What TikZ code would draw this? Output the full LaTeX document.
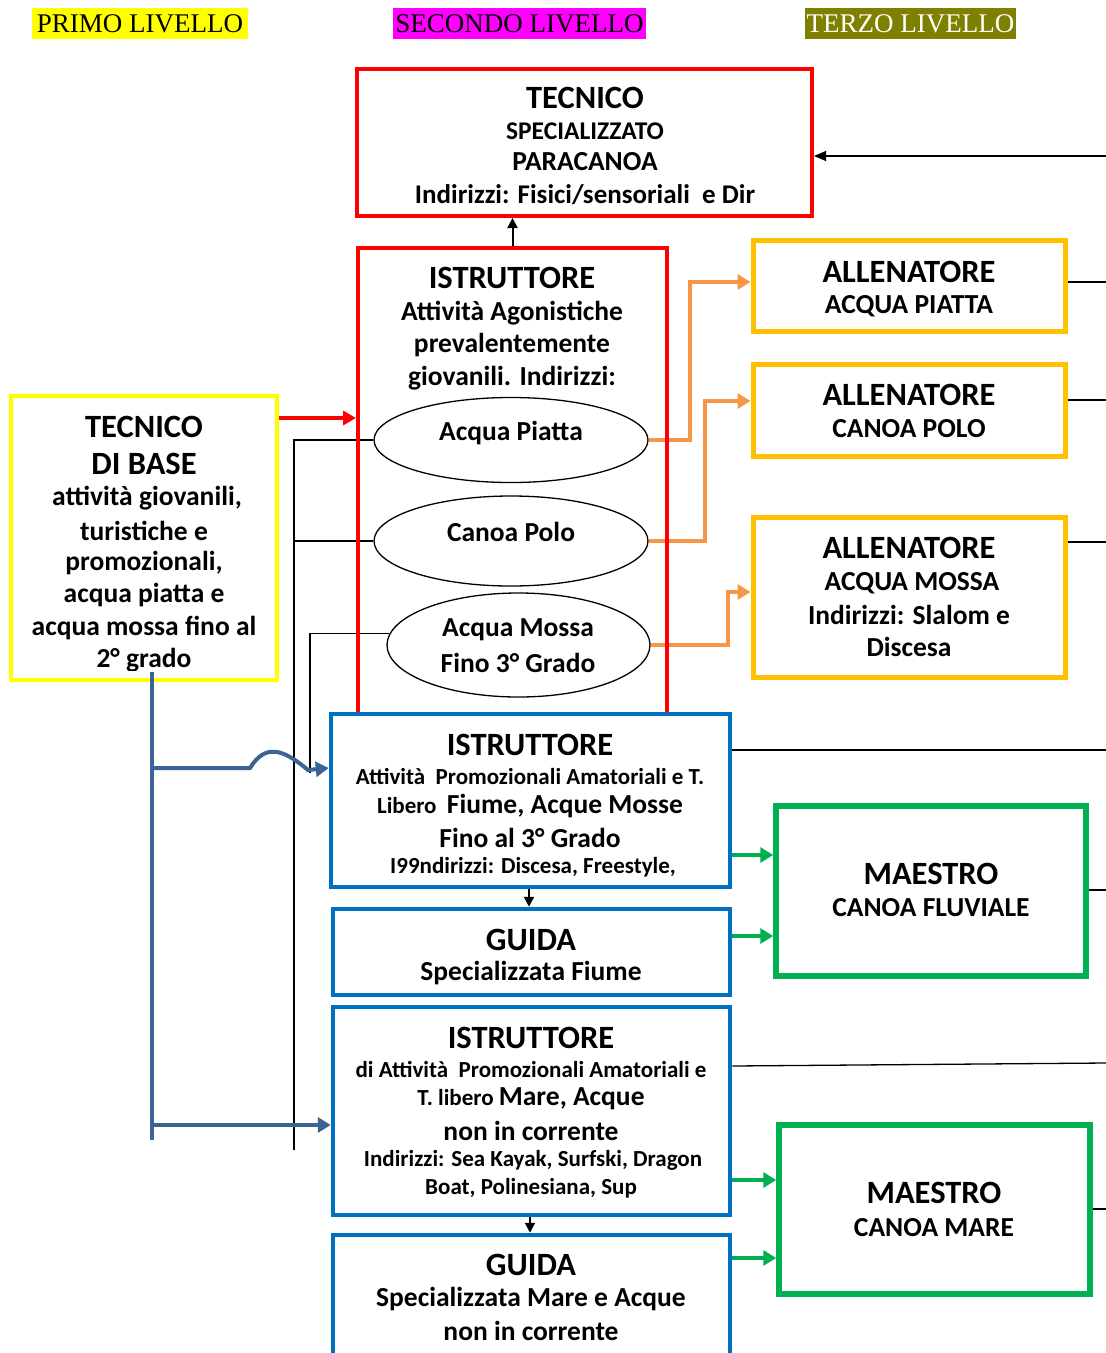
\documentclass[tikz,border=0pt]{standalone}
\usepackage{fontspec}
\setmainfont{Carlito}
\newfontfamily\timesf{Liberation Serif}
\usetikzlibrary{shapes.geometric,arrows.meta}
\newcommand\fsz[1]{\fontsize{#1}{#1}\selectfont}
\definecolor{cred}{HTML}{FF0000}
\definecolor{cgold}{HTML}{FFC000}
\definecolor{corange}{HTML}{F79646}
\definecolor{cblue}{HTML}{0070C0}
\definecolor{cblueconn}{HTML}{3B6494}
\definecolor{cgreen}{HTML}{00B050}
\definecolor{cyel}{HTML}{FFFF00}
\definecolor{cmag}{HTML}{FF00FF}
\definecolor{colive}{HTML}{808000}
\begin{document}
\begin{tikzpicture}[x=1pt,y=-1pt,
  hdr/.style={rectangle,inner sep=0,minimum height=31,font=\timesf\fsz{27}},
  redbox/.style={draw=cred,rectangle,inner sep=0,line width=4pt},
  yelbox/.style={draw=cyel,rectangle,inner sep=0,line width=4.5pt},
  goldbox/.style={draw=cgold,rectangle,inner sep=0,line width=5pt},
  bluebox/.style={draw=cblue,fill=white,rectangle,inner sep=0,line width=4.5pt},
  greenbox/.style={draw=cgreen,rectangle,inner sep=0,line width=5.5pt},
  ell/.style={draw=black,fill=white,ellipse,inner sep=0,line width=1.3pt},
  T/.style={inner sep=0,font=\bfseries\fsz{32.5}},
  M/.style={inner sep=0,font=\bfseries\fsz{27.5}},
  S/.style={inner sep=0,font=\bfseries\fsz{23}},
  thin/.style={draw=black,line width=1.3pt},
  orconn/.style={draw=corange,line width=4pt,-{Triangle[length=13pt,width=15pt]}},
  grconn/.style={draw=cgreen,line width=4pt,-{Triangle[length=13pt,width=15pt]}},
  blconn/.style={draw=cblueconn,line width=4pt},
  blarrow/.style={draw=cblueconn,line width=4pt,-{Triangle[length=13pt,width=15pt]}},
  darrow/.style={draw=black,line width=2pt,-{Triangle[length=10pt,width=10pt]}}
]
\useasboundingbox (0,0) rectangle (1106,1353);
\fill[white] (0,0) rectangle (1106,1353);

% headers
\node[hdr,fill=cyel,minimum width=216] (h1) at (140,23.5) {PRIMO LIVELLO};
\node[hdr,fill=cmag,minimum width=253] (h2) at (519.5,23.5) {SECONDO LIVELLO};
\node[hdr,fill=colive,text=white,minimum width=211] (h3) at (910.5,23.5) {TERZO LIVELLO};

% coordinates for free ends
\coordinate (r0) at (1106,156);
\coordinate (bl) at (294,1150);
\coordinate (bl2) at (310,773);
\coordinate (bt) at (152,672);
\coordinate (bv) at (152,1140);
\coordinate (e1) at (1106,282);
\coordinate (e2) at (1106,400);
\coordinate (e3) at (1106,542);
\coordinate (e4) at (1106,750);
\coordinate (e5) at (1106,1063);
\coordinate (e6) at (1106,890);
\coordinate (e7) at (1106,1209);

% boxes (positions)
\node[redbox,minimum width=455,minimum height=147] (tec) at (584.5,142.5) {};
\node[redbox,minimum width=309,minimum height=466] (ist1) at (512.5,481) {};
\node[yelbox,minimum width=266,minimum height=284] (base) at (144,538) {};
\node[goldbox,minimum width=312,minimum height=91] (all1) at (909,285.5) {};
\node[goldbox,minimum width=312,minimum height=92] (all2) at (909,410) {};
\node[goldbox,minimum width=312,minimum height=160] (all3) at (909,597) {};
\node[greenbox,minimum width=310,minimum height=170] (m1) at (931,891) {};
\node[greenbox,minimum width=311,minimum height=169] (m2) at (934.5,1209.5) {};

% connectors drawn under ellipses and blue boxes
\draw[thin,-{Triangle[length=12pt,width=10pt]}] (r0) -- (r0 -| tec.east);
\draw[darrow] (ist1.north) -- (ist1.north |- tec.south);
\draw[draw=cred,line width=4pt,-{Triangle[length=13pt,width=14pt]}] (base.east |- 0,418) -- (ist1.west |- 0,418);

\node[ell,minimum width=274,minimum height=85] (ap) at (511,440) {};
\node[ell,minimum width=274,minimum height=90] (cp) at (511,541) {};
\node[ell,minimum width=263,minimum height=104] (am) at (518.5,645) {};

\draw[thin] (ap.west) -| (bl);
\draw[thin] (cp.west) -- (cp.west -| bl);
\draw[thin] (am.175) -| (bl2);

\draw[orconn] (ap.east) -- ++(41,0) |- ([yshift=3.5pt]all1.west);
\draw[orconn] (cp.east) -- ++(56,0) |- ([yshift=9pt]all2.west);
\draw[orconn] (am.east) -- ++(77,0) |- ([yshift=5pt]all3.west);

\draw[thin] (all1.east |- e1) -- (e1);
\draw[thin] (all2.east |- e2) -- (e2);
\draw[thin] (all3.east |- e3) -- (e3);

% redraw red box border over orange crossings
\node[redbox,minimum width=309,minimum height=466] at (ist1) {};

% blue boxes
\node[bluebox,minimum width=399,minimum height=173] (ist2) at (530.5,800.5) {};
\node[bluebox,minimum width=397,minimum height=86] (g1) at (531.5,952) {};
\node[bluebox,minimum width=397,minimum height=208] (ist3) at (531.5,1111) {};
\node[bluebox,minimum width=397,minimum height=125] (g2) at (531.5,1297.5) {};

\draw[darrow] (ist2.south -| 529,0) -- (g1.north -| 529,0);
\draw[darrow] (ist3.south -| 530,0) -- (g2.north -| 530,0);

\draw[thin] (ist2.east |- e4) -- (e4);
\draw[thin] (ist3.east |- 0,1066) -- (e5);
\draw[thin] (m1.east |- e6) -- (e6);
\draw[thin] (m2.east |- e7) -- (e7);

\draw[grconn] (ist2.east |- 0,855) -- (m1.west |- 0,855);
\draw[grconn] (g1.east |- 0,936) -- (m1.west |- 0,936);
\draw[grconn] (ist3.east |- 0,1180) -- (m2.west |- 0,1180);
\draw[grconn] (g2.east |- 0,1258) -- (m2.west |- 0,1258);

% blue connectors from TECNICO DI BASE
\draw[blconn] (bt) -- (bv);
\draw[blarrow] (bt |- 0,768) -- (250,768) .. controls (265,744) and (282,748) .. (308,770) -- (ist2.west |- 0,768);
\draw[blarrow] (bt |- 0,1125) -- (ist3.west |- 0,1125);

% texts
\node[T] (t1) at (585,98) {TECNICO};
\node[inner sep=0,font=\bfseries\fsz{25.5}] (t2) at (585,131) {SPECIALIZZATO};
\node[inner sep=0,font=\bfseries\fsz{27.5}] (t3) at (585,162) {PARACANOA};
\node[inner sep=0,font=\bfseries\fsz{27}] (t4) at (585,195) {Indirizzi: Fisici/sensoriali\ \ e Dir};

\node[T] (i1) at (512,278) {ISTRUTTORE};
\node[M] (i2) at (512,313) {Attività Agonistiche};
\node[M] (i3) at (512,345) {prevalentemente};
\node[M] (i4) at (512,378) {giovanili. Indirizzi:};

\node[M] (ap1) at (511,433) {Acqua Piatta};
\node[M] (cp1) at (511,532) {Canoa Polo};
\node[M] (am1) at (518,630) {Acqua Mossa};
\node[M] (am2) at (518,663) {Fino 3° Grado};

\node[T] (b1) at (144,427) {TECNICO};
\node[T] (b2) at (144,464) {DI BASE};
\node[M] (b3) at (147,498) {attività giovanili,};
\node[M] (b4) at (144,531) {turistiche e};
\node[M] (b5) at (144,563) {promozionali,};
\node[M] (b6) at (144,595) {acqua piatta e};
\node[M] (b7) at (144,628) {acqua mossa fino al};
\begin{scope}
\clip (0,640) rectangle (300,670);
\node[M] (b8) at (144,660) {2° grado};
\end{scope}

\node[T] (a1) at (909,272) {ALLENATORE};
\node[M] (a2) at (909,306) {ACQUA PIATTA};
\node[T] (a3) at (909,395) {ALLENATORE};
\node[M] (a4) at (909,429) {CANOA POLO};
\node[T] (a5) at (909,548) {ALLENATORE};
\node[M] (a6) at (912,583) {ACQUA MOSSA};
\node[M] (a7) at (909,615) {Indirizzi: Slalom e};
\node[M] (a8) at (909,647) {Discesa};

\node[T] (s1) at (530,745) {ISTRUTTORE};
\node[S] (s2) at (530,776) {Attività\ \ Promozionali Amatoriali e T.};
\node[S] (s3) at (530,806) {Libero\ \ {\fsz{27.5}Fiume, Acque Mosse}};
\node[M] (s4) at (530,838) {Fino al 3° Grado};
\node[S] (s5) at (533,867) {I99ndirizzi: Discesa, Freestyle,};

\node[T] (g1a) at (531,940) {GUIDA};
\node[M] (g1b) at (531,973) {Specializzata Fiume};

\node[T] (u1) at (531,1038) {ISTRUTTORE};
\node[S] (u2) at (531,1069) {di Attività\ \ Promozionali Amatoriali e};
\node[S] (u3) at (531,1099) {T. libero {\fsz{27.5}Mare, Acque}};
\node[M] (u4) at (531,1131) {non in corrente};
\node[S] (u5) at (533,1160) {Indirizzi: Sea Kayak, Surfski, Dragon};
\node[S] (u6) at (531,1188) {Boat, Polinesiana, Sup};

\node[T] (g2a) at (531,1265) {GUIDA};
\node[M] (g2b) at (531,1299) {Specializzata Mare e Acque};
\node[M] (g2c) at (531,1331) {non in corrente};

\node[T] (m1a) at (931,874) {MAESTRO};
\node[inner sep=0,font=\bfseries\fsz{27.5}] (m1b) at (931,908) {CANOA FLUVIALE};
\node[T] (m2a) at (934,1193) {MAESTRO};
\node[inner sep=0,font=\bfseries\fsz{27.5}] (m2b) at (934,1228) {CANOA MARE};
\end{tikzpicture}
\end{document}
